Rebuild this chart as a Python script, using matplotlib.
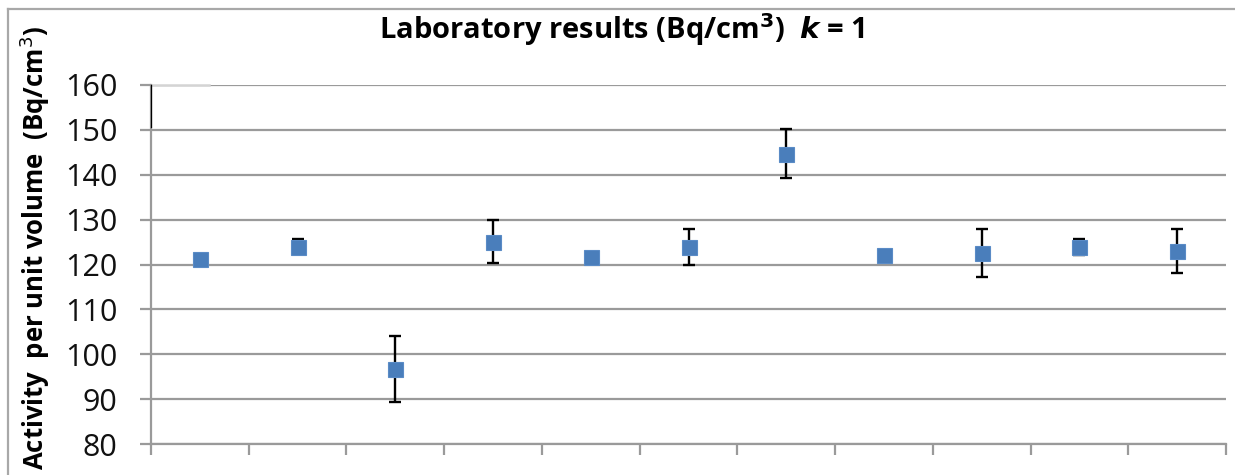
import matplotlib
matplotlib.use("Agg")
import matplotlib.pyplot as plt
from matplotlib.lines import Line2D

# ---- data ----
labs = list(range(1, 12))
values = [121.3, 124.0, 96.7, 125.1, 121.6, 123.9, 144.7, 122.2, 122.6, 123.9, 123.0]
errors = [0.0, 1.7, 7.3, 4.8, 0.0, 3.9, 5.5, 0.0, 5.3, 1.7, 5.0]
yticks = [80, 90, 100, 110, 120, 130, 140, 150, 160]

plt.rcParams['font.family'] = ['Open Sans', 'DejaVu Sans']

W, H = 1235, 475
fig = plt.figure(figsize=(W / 100, H / 100), dpi=100)
ax = fig.add_axes([151 / W, (H - 444) / H, 1075 / W, 359 / H])

grid_c = '#9a9a9a'
ax.set_ylim(80, 160)
ax.set_xlim(0.5, len(labs) + 0.5)
ax.set_yticks(yticks)
ax.set_xticks([i + 0.5 for i in range(0, len(labs) + 1)])
ax.set_xticklabels([])
ax.yaxis.grid(True, color=grid_c, linewidth=1.6, zorder=0)
ax.set_axisbelow(True)
for s in ['top', 'right']:
    ax.spines[s].set_visible(False)
for s in ['left', 'bottom']:
    ax.spines[s].set_color(grid_c)
    ax.spines[s].set_linewidth(1.6)
ax.tick_params(axis='y', length=8, width=1.6, color=grid_c, labelsize=22,
               pad=16, labelcolor='#111111')
ax.tick_params(axis='x', length=8, width=1.6, color=grid_c)

ax.errorbar(labs, values, yerr=errors, fmt='none', ecolor='black',
            elinewidth=1.7, capsize=4.5, capthick=1.7, zorder=3)
ax.plot(labs, values, linestyle='none', marker='s', markersize=10.8,
        markerfacecolor='#4a7ebb', markeredgecolor='#5a8bc6',
        markeredgewidth=0.8, zorder=4)

# artifact near top-left of plot area (white patch over gridline, thin dark axis line)
ax.plot([0.5, 0.5 + 58 / 97.9], [160, 160], color='#d4d4d4', linewidth=1.8,
        zorder=2, clip_on=False)
ax.plot([0.5, 0.5], [150.7, 160], color='black', linewidth=0.9, zorder=5,
        clip_on=False)

fig.text(622 / W, 1 - 30 / H,
         r'Laboratory results (Bq/cm$^{\mathbf{3}}$)  $\boldsymbol{k}$ = 1',
         ha='center', va='center', fontsize=21, fontweight='bold')
fig.text(35 / W, 0.5 - 10 / H, 'Activity  per unit volume  (Bq/cm$^3$)',
         rotation=90, ha='center', va='center', fontsize=18.5, fontweight='bold')

# outer frame lines (top and left)
fig.add_artist(Line2D([8 / W, 1.0], [1 - 9 / H, 1 - 9 / H], color='#a8a8a8',
                      linewidth=1.6, transform=fig.transFigure))
fig.add_artist(Line2D([8 / W, 8 / W], [0, 1 - 9 / H], color='#a8a8a8',
                      linewidth=1.6, transform=fig.transFigure))

fig.savefig('out.png', dpi=100, facecolor='white')
